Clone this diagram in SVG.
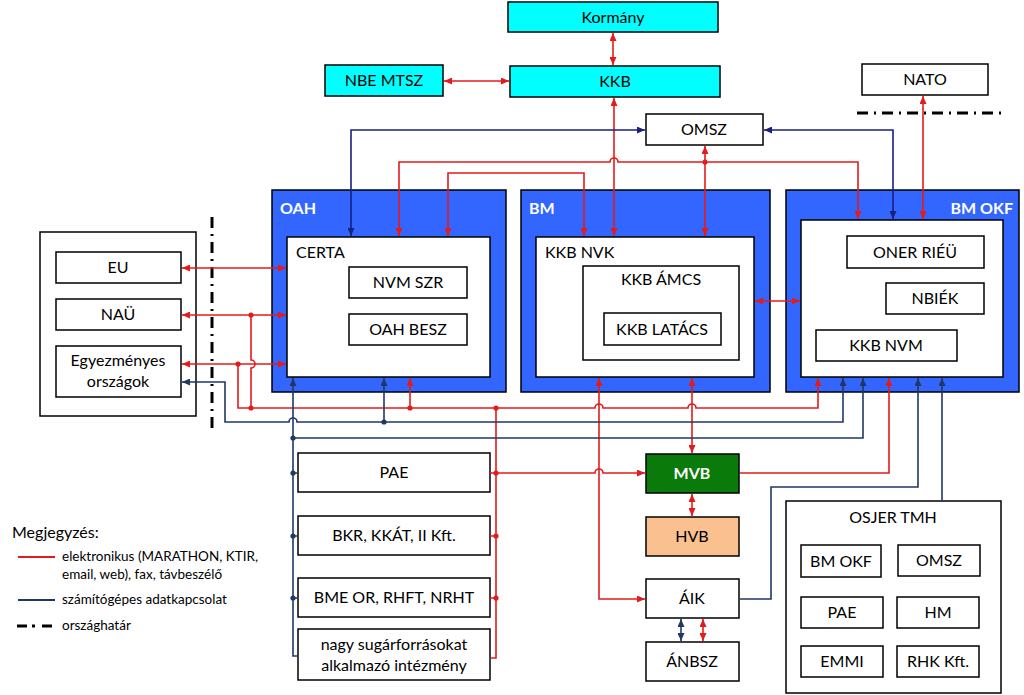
<svg xmlns="http://www.w3.org/2000/svg" width="1024" height="695" viewBox="0 0 1024 695">
<style>
.box{fill:#fff;stroke:#000;stroke-width:1.5}
.cyan{fill:#00FFFF;stroke:#000;stroke-width:1.5}
.org{fill:#3366FF;stroke:#000;stroke-width:1.5}
.t{font-family:Lato,"Open Sans",sans-serif;font-size:16px;fill:#000;text-anchor:middle}
.tl{font-family:Lato,"Open Sans",sans-serif;font-size:16px;fill:#000}
.ow{font-family:Lato,"Open Sans",sans-serif;font-size:16px;font-weight:bold;fill:#fff}
.lg{font-family:Lato,"Open Sans",sans-serif;font-size:13.5px;fill:#000}
.r{fill:none;stroke:#E31B1B;stroke-width:1.6}
.b{fill:none;stroke:#1A1F80;stroke-width:1.6}
.b2{fill:none;stroke:#203864;stroke-width:1.6}
.dr{fill:#E31B1B}
.db{fill:#203864}
.border{fill:none;stroke:#000;stroke-width:3;stroke-dasharray:11 6 2 6}
</style>
<defs>
<marker id="ar" viewBox="0 0 8 7" refX="8" refY="3.5" markerWidth="8" markerHeight="7" markerUnits="userSpaceOnUse" orient="auto-start-reverse"><path d="M0,0 L8,3.5 L0,7 z" fill="#E31B1B"/></marker>
<marker id="ab" viewBox="0 0 8 7" refX="8" refY="3.5" markerWidth="8" markerHeight="7" markerUnits="userSpaceOnUse" orient="auto-start-reverse"><path d="M0,0 L8,3.5 L0,7 z" fill="#1A1F80"/></marker>
<marker id="ab2" viewBox="0 0 8 7" refX="8" refY="3.5" markerWidth="8" markerHeight="7" markerUnits="userSpaceOnUse" orient="auto-start-reverse"><path d="M0,0 L8,3.5 L0,7 z" fill="#203864"/></marker>
</defs>
<rect width="1024" height="695" fill="#fff"/>

<g id="kormany"><rect class="cyan" x="508" y="2" width="210" height="30"/><text class="t" x="613" y="23">Kormány</text></g>
<g id="kkb"><rect class="cyan" x="510" y="66" width="210" height="31"/><text class="t" x="615" y="87">KKB</text></g>
<g id="nbe"><rect class="cyan" x="325" y="65" width="118" height="31"/><text class="t" x="384" y="86">NBE MTSZ</text></g>
<g id="nato"><rect class="box" x="862" y="64" width="126" height="31"/><text class="t" x="925" y="85">NATO</text></g>
<g id="omsz"><rect class="box" x="646" y="114" width="117" height="31"/><text class="t" x="704" y="135">OMSZ</text></g>

<g id="oah"><rect class="org" x="272" y="190" width="234" height="202"/><text class="ow" x="280" y="214">OAH</text>
<g id="certa"><rect class="box" x="287" y="237" width="203" height="140"/><text class="tl" x="296" y="258">CERTA</text></g>
<g id="nvmszr"><rect class="box" x="349" y="267" width="118" height="31"/><text class="t" x="408" y="288">NVM SZR</text></g>
<g id="oahbesz"><rect class="box" x="349" y="314" width="118" height="31"/><text class="t" x="408" y="335">OAH BESZ</text></g>
</g>

<g id="bm"><rect class="org" x="521" y="190" width="249" height="202"/><text class="ow" x="529" y="214">BM</text>
<g id="kkbnvk"><rect class="box" x="536" y="237" width="218" height="140"/><text class="tl" x="545" y="258">KKB NVK</text></g>
<g id="kkbamcs"><rect class="box" x="583" y="266" width="156" height="94"/><text class="t" x="661" y="285">KKB ÁMCS</text></g>
<g id="kkblatacs"><rect class="box" x="604" y="313" width="117" height="32"/><text class="t" x="662" y="335">KKB LATÁCS</text></g>
</g>

<g id="bmokf"><rect class="org" x="786" y="190" width="233" height="202"/><text class="ow" x="1013" y="214" text-anchor="end">BM OKF</text>
<rect class="box" x="801" y="220" width="202" height="157"/>
<g id="oner"><rect class="box" x="847" y="236" width="137" height="32"/><text class="t" x="915" y="258">ONER RIÉÜ</text></g>
<g id="nbiek"><rect class="box" x="886" y="283" width="98" height="31"/><text class="t" x="935" y="304">NBIÉK</text></g>
<g id="kkbnvm"><rect class="box" x="816" y="330" width="141" height="31"/><text class="t" x="886" y="351">KKB NVM</text></g>
</g>

<g id="kulfold"><rect class="box" x="40" y="232" width="156" height="184"/>
<g id="eu"><rect class="box" x="56" y="252" width="125" height="31"/><text class="t" x="118" y="273">EU</text></g>
<g id="nau"><rect class="box" x="56" y="299" width="125" height="31"/><text class="t" x="118" y="320">NAÜ</text></g>
<g id="egyezm"><rect class="box" x="56" y="346" width="125" height="51"/><text class="t" x="118" y="366">Egyezményes</text><text class="t" x="118" y="387">országok</text></g>
</g>

<g id="pae"><rect class="box" x="298" y="453" width="192" height="39"/><text class="t" x="394" y="478">PAE</text></g>
<g id="bkr"><rect class="box" x="298" y="516" width="192" height="39"/><text class="t" x="394" y="541">BKR, KKÁT, II Kft.</text></g>
<g id="bme"><rect class="box" x="298" y="578" width="192" height="39"/><text class="t" x="394" y="603">BME OR, RHFT, NRHT</text></g>
<g id="nagy"><rect class="box" x="298" y="629" width="192" height="51"/><text class="t" x="394" y="650">nagy sugárforrásokat</text><text class="t" x="394" y="671">alkalmazó intézmény</text></g>

<g id="mvb"><rect x="646" y="454" width="93" height="39" fill="#0A7A0A" stroke="#000" stroke-width="1.5"/><text class="ow" x="692" y="479" text-anchor="middle">MVB</text></g>
<g id="hvb"><rect x="646" y="517" width="93" height="39" fill="#FAC090" stroke="#000" stroke-width="1.5"/><text class="t" x="692" y="542">HVB</text></g>
<g id="aik"><rect class="box" x="646" y="579" width="93" height="39"/><text class="t" x="692" y="604">ÁIK</text></g>
<g id="anbsz"><rect class="box" x="646" y="642" width="93" height="39"/><text class="t" x="692" y="667">ÁNBSZ</text></g>

<g id="osjer"><rect class="box" x="786" y="501" width="215" height="192"/><text class="t" x="893" y="523">OSJER TMH</text>
<g id="o-bmokf"><rect class="box" x="801" y="545" width="80" height="32"/><text class="t" x="841" y="567">BM OKF</text></g>
<g id="o-omsz"><rect class="box" x="898" y="545" width="82" height="31"/><text class="t" x="939" y="566">OMSZ</text></g>
<g id="o-pae"><rect class="box" x="801" y="597" width="82" height="31"/><text class="t" x="842" y="618">PAE</text></g>
<g id="o-hm"><rect class="box" x="897" y="597" width="82" height="31"/><text class="t" x="938" y="618">HM</text></g>
<g id="o-emmi"><rect class="box" x="801" y="646" width="82" height="31"/><text class="t" x="842" y="667">EMMI</text></g>
<g id="o-rhk"><rect class="box" x="897" y="646" width="82" height="31"/><text class="t" x="938" y="667">RHK Kft.</text></g>
</g>

<g id="borders">
<path class="border" d="M212,217 V432"/>
<path class="border" d="M857,113 H1005"/>
</g>

<g id="connectors">
<path class="r" d="M613,33 V65" marker-start="url(#ar)" marker-end="url(#ar)"/>
<path class="r" d="M444,81 H509" marker-start="url(#ar)" marker-end="url(#ar)"/>
<path class="r" d="M614,98 V236" marker-start="url(#ar)" marker-end="url(#ar)"/>
<path class="r" d="M399,236 V162 H610 a4,4 0 0 1 8,0 H858 V219" marker-start="url(#ar)" marker-end="url(#ar)"/>
<path class="r" d="M705,146 V236" marker-start="url(#ar)" marker-end="url(#ar)"/>
<path class="r" d="M448,236 V173 H584 V236" marker-start="url(#ar)" marker-end="url(#ar)"/>
<path class="b" d="M351,236 V130 H645" marker-start="url(#ab)" marker-end="url(#ab)"/>
<path class="b" d="M764,130 H893 V219" marker-start="url(#ab)" marker-end="url(#ab)"/>
<path class="r" d="M923,96 V219" marker-start="url(#ar)" marker-end="url(#ar)"/>
<path class="r" d="M755,301 H800" marker-start="url(#ar)" marker-end="url(#ar)"/>
<path class="r" d="M182,268 H286" marker-start="url(#ar)" marker-end="url(#ar)"/>
<path class="r" d="M182,315 H286" marker-start="url(#ar)" marker-end="url(#ar)"/>
<path class="r" d="M182,364 H286" marker-start="url(#ar)" marker-end="url(#ar)"/>
<path class="r" d="M251,315 V360 a4,4 0 0 1 0,8 V408"/>
<path class="r" d="M238,364 V408 H595 a4,4 0 0 1 8,0 H688 a4,4 0 0 1 8,0 H818 V378" marker-end="url(#ar)"/>
<path class="r" d="M410,408 V378" marker-end="url(#ar)"/>
<path class="r" d="M496,408 V658 H491 M490,536 H496 M490,598 H496"/>
<path class="r" d="M490,473 H595 a4,4 0 0 1 8,0 H645" marker-end="url(#ar)"/>
<path class="r" d="M599,378 V599 H645" marker-start="url(#ar)" marker-end="url(#ar)"/>
<path class="r" d="M692,378 V453" marker-start="url(#ar)" marker-end="url(#ar)"/>
<path class="r" d="M740,473 H889 V378" marker-end="url(#ar)"/>
<path class="r" d="M692,494 V516" marker-start="url(#ar)" marker-end="url(#ar)"/>
<path class="r" d="M703,619 V641" marker-start="url(#ar)" marker-end="url(#ar)"/>
<path class="b2" d="M681,619 V641" marker-start="url(#ab2)" marker-end="url(#ab2)"/>
<path class="b2" d="M740,599 H771 V487 H918 V378" marker-end="url(#ab2)"/>
<path class="b2" d="M942,501 V378" marker-end="url(#ab2)"/>
<path class="b2" d="M182,382 H225 V422 H289 a4,4 0 0 1 8,0 H843 V378" marker-start="url(#ab2)" marker-end="url(#ab2)"/>
<path class="b2" d="M384,422 V378" marker-end="url(#ab2)"/>
<path class="b2" d="M293,438 H863 V378" marker-end="url(#ab2)"/>
<path class="b2" d="M293,378 V656 H298 M293,473 H298 M293,536 H298 M293,598 H298" marker-start="url(#ab2)"/>
<g id="dots">
<circle class="dr" cx="705" cy="162" r="2.6"/>
<circle class="dr" cx="251" cy="315" r="2.6"/>
<circle class="dr" cx="238" cy="364" r="2.6"/>
<circle class="dr" cx="251" cy="408" r="2.6"/>
<circle class="dr" cx="410" cy="408" r="2.6"/>
<circle class="dr" cx="496" cy="408" r="2.6"/>
<circle class="dr" cx="496" cy="473" r="2.6"/>
<circle class="dr" cx="496" cy="536" r="2.6"/>
<circle class="dr" cx="496" cy="598" r="2.6"/>
<circle class="db" cx="384" cy="422" r="2.6"/>
<circle class="db" cx="293" cy="438" r="2.6"/>
<circle class="db" cx="293" cy="473" r="2.6"/>
<circle class="db" cx="293" cy="536" r="2.6"/>
<circle class="db" cx="293" cy="598" r="2.6"/>
</g>
</g>

<g id="legend">
<text class="tl" x="12" y="538" font-size="17">Megjegyzés:</text>
<path d="M18,557 H55" stroke="#E31B1B" stroke-width="2.2"/>
<text class="lg" x="62" y="561">elektronikus (MARATHON, KTIR,</text>
<text class="lg" x="62" y="579">email, web), fax, távbeszélő</text>
<path d="M18,600 H55" stroke="#203864" stroke-width="2.2"/>
<text class="lg" x="62" y="604">számítógépes adatkapcsolat</text>
<path d="M17,626 H27 M32,626 H35 M42,626 H52" stroke="#000" stroke-width="3"/>
<text class="lg" x="62" y="630">országhatár</text>
</g>
</svg>
